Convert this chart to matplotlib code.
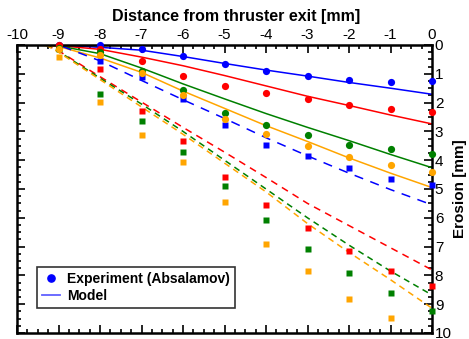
import matplotlib
matplotlib.use("Agg")
import matplotlib.pyplot as plt
from matplotlib.lines import Line2D
from matplotlib.ticker import MultipleLocator
import numpy as np

plt.rcParams['font.family'] = ['Liberation Sans', 'DejaVu Sans']
plt.rcParams['axes.unicode_minus'] = False

# experiment positions [mm]
xexp = [-9, -8, -7, -6, -5, -4, -3, -2, -1, 0]

# circles: experiment (Absalamov)
circ_blue = [0.0, 0.0, 0.14, 0.38, 0.66, 0.89, 1.06, 1.22, 1.27, 1.25]
circ_red = [0.0, 0.15, 0.56, 1.09, 1.43, 1.68, 1.89, 2.09, 2.23, 2.34]
circ_green = [0.1, 0.23, 0.89, 1.56, 2.35, 2.79, 3.11, 3.47, 3.61, 3.77]
circ_orange = [0.15, 0.35, 0.96, 1.74, 2.56, 3.09, 3.5, 3.88, 4.18, 4.4]

# squares: second experiment set
sq_blue = [0.1, 0.56, 1.1, 1.89, 2.79, 3.47, 3.87, 4.27, 4.66, 4.86]
sq_red = [0.05, 0.82, 2.29, 3.32, 4.57, 5.54, 6.37, 7.15, 7.84, 8.36]
sq_green = [0.15, 1.7, 2.63, 3.72, 4.9, 6.08, 7.09, 7.92, 8.6, 9.24]
sq_orange = [0.4, 1.97, 3.14, 4.05, 5.46, 6.9, 7.85, 8.81, 9.48, np.nan]

# model curves
xmod = [-9.5, -9, -8, -7, -6, -5, -4, -3, -2, -1, 0]
mod_blue = [0, 0.0, 0.08, 0.18, 0.4, 0.64, 0.87, 1.08, 1.3, 1.5, 1.71]
mod_red = [0, 0.02, 0.15, 0.42, 0.72, 1.06, 1.42, 1.78, 2.1, 2.43, 2.74]
mod_green = [0, 0.03, 0.3, 0.8, 1.35, 1.87, 2.38, 2.86, 3.32, 3.8, 4.26]
mod_orange = [0, 0.05, 0.45, 0.95, 1.6, 2.2, 2.8, 3.35, 3.92, 4.45, 4.95]

xdash = [-9.3, -9, -8, -7, -6, -5, -4, -3, -2, -1, 0]
dash_blue = [0, 0.0, 0.55, 1.23, 1.9, 2.55, 3.22, 3.85, 4.45, 5.02, 5.55]
dash_red = [0, 0.2, 1.1, 1.98, 2.86, 3.72, 4.6, 5.5, 6.27, 7.04, 7.81]
dash_green = [0, 0.22, 1.15, 2.05, 3.0, 4.0, 5.0, 6.0, 6.95, 7.85, 8.68]
dash_orange = [0, 0.25, 1.2, 2.15, 3.1, 4.1, 5.1, 6.2, 7.2, 8.15, 9.14]

cols = ['#0000ff', '#ff0000', '#008000', '#ffa500']

fig = plt.figure(figsize=(4.69, 3.39), dpi=100)
ax = fig.add_axes([17/469, 1-333/339, (432-17)/469, (333-45)/339])

circs = [circ_blue, circ_red, circ_green, circ_orange]
sqs = [sq_blue, sq_red, sq_green, sq_orange]
mods = [mod_blue, mod_red, mod_green, mod_orange]
dashes = [dash_blue, dash_red, dash_green, dash_orange]
dstyles = [(0, (6, 5)), (0, (4.6, 3.6)), (0, (4, 3)), (0, (4, 3))]

for c, sq in zip(cols, sqs):
    ax.plot(xexp, sq, 's', color=c, ms=4.3, mec='none', clip_on=False, zorder=3)
for c, ci in zip(cols, circs):
    ax.plot(xexp, ci, 'o', color=c, ms=5.2, mec='none', clip_on=False, zorder=3)
for c, m in zip(cols, mods):
    ax.plot(xmod, m, '-', color=c, lw=1.1, zorder=2)
for c, d, ls in zip(cols, dashes, dstyles):
    ax.plot(xdash, d, color=c, lw=1.1, linestyle=ls, zorder=2)

ax.set_xlim(-10, 0)
ax.set_ylim(10, 0)
ax.xaxis.tick_top()
ax.yaxis.tick_right()
ax.xaxis.set_major_locator(MultipleLocator(1))
ax.xaxis.set_minor_locator(MultipleLocator(0.25))
ax.yaxis.set_major_locator(MultipleLocator(1))
ax.yaxis.set_minor_locator(MultipleLocator(0.25))
ax.tick_params(which='both', direction='in', top=True, bottom=True, left=True, right=True,
               width=1.2, labelsize=11, pad=2)
ax.tick_params(which='major', length=6)
ax.tick_params(which='minor', length=3)
for s in ax.spines.values():
    s.set_linewidth(1.8)

ax.yaxis.set_label_position('right')
ax.set_ylabel('Erosion [mm]', fontsize=11, fontweight='bold', rotation=90, labelpad=1)
fig.text(236/469, 1-17/339, 'Distance from thruster exit [mm]', fontsize=11.5,
         fontweight='bold', ha='center', va='center')

handles = [Line2D([], [], marker='o', ls='none', color='#0000ff', ms=5.2),
           Line2D([], [], color='#6060ff', lw=1.3)]
leg = ax.legend(handles, ['Experiment (Absalamov)', 'Model'], loc='lower left',
                bbox_to_anchor=(0.048, 0.087), borderaxespad=0, frameon=True,
                fancybox=False, prop={'weight': 'bold', 'size': 10}, handlelength=1.3,
                borderpad=0.35, labelspacing=0.2, handletextpad=0.5)
leg.get_frame().set_edgecolor('black')
leg.get_frame().set_linewidth(1.2)

fig.savefig('out.png', dpi=100)
